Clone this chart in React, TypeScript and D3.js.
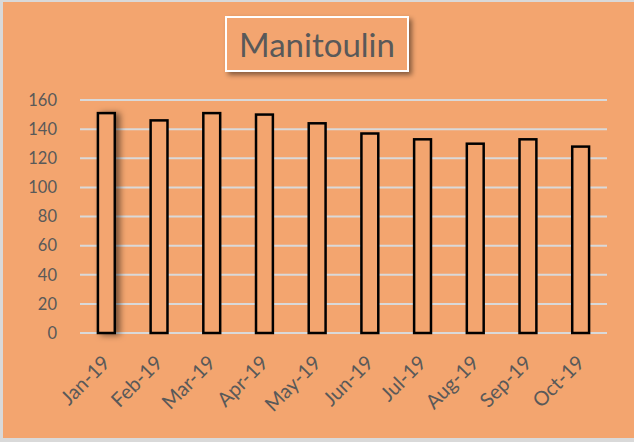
import React, { useEffect, useRef } from 'react';
import * as d3 from 'd3';

// monthly counts
const months = ['Jan-19', 'Feb-19', 'Mar-19', 'Apr-19', 'May-19', 'Jun-19', 'Jul-19', 'Aug-19', 'Sep-19', 'Oct-19'];
const counts = [151, 146, 151, 150, 144, 137, 133, 130, 133, 128];
const yTicks = [0, 20, 40, 60, 80, 100, 120, 140, 160];
const title = 'Manitoulin';

const W = 634, H = 442;
const BG = '#F3A56F';
const TXT = '#595959';
const FONT = 'Lato, "Noto Sans", sans-serif';

const App = () => {
  const ref = useRef<SVGSVGElement>(null);

  useEffect(() => {
    if (!ref.current) return;
    const svg = d3.select(ref.current);
    svg.selectAll('*').remove();

    const defs = svg.append('defs');
    const sh = defs.append('filter').attr('id', 'shadow').attr('x', '-20%').attr('y', '-20%').attr('width', '150%').attr('height', '150%');
    sh.append('feDropShadow').attr('dx', 3).attr('dy', 3).attr('stdDeviation', 2.5)
      .attr('flood-color', '#000').attr('flood-opacity', 0.45);
    const bsh = defs.append('filter').attr('id', 'barshadow').attr('x', '-50%').attr('y', '-10%').attr('width', '250%').attr('height', '120%');
    bsh.append('feDropShadow').attr('dx', 4).attr('dy', 1).attr('stdDeviation', 3)
      .attr('flood-color', '#000').attr('flood-opacity', 0.5);

    // background + light grey frame on left/top/bottom
    svg.append('rect').attr('x', 0).attr('y', 0).attr('width', W).attr('height', H).attr('fill', '#D9D9D9');
    svg.append('rect').attr('x', 3).attr('y', 2).attr('width', W - 3).attr('height', H - 6).attr('fill', BG);

    const x = d3.scaleBand().domain(months).range([80, 607]).paddingInner(0.68).paddingOuter(0.34);
    const y = d3.scaleLinear().domain([0, 160]).range([333, 100]);

    // gridlines
    svg.append('g').selectAll('line').data(yTicks).enter().append('line')
      .attr('x1', 80).attr('x2', 607)
      .attr('y1', d => y(d)).attr('y2', d => y(d))
      .attr('stroke', '#D9D9D9').attr('stroke-width', 2);

    // y labels
    svg.append('g').selectAll('text').data(yTicks).enter().append('text')
      .attr('x', 57).attr('y', d => y(d)).attr('dy', '0.35em')
      .attr('text-anchor', 'end').attr('fill', TXT)
      .attr('font-family', FONT).attr('font-size', 16.5)
      .text(d => d);

    // bars
    svg.append('g').selectAll('rect').data(counts).enter().append('rect')
      .attr('x', (d, i) => x(months[i])!)
      .attr('y', d => y(d))
      .attr('width', x.bandwidth())
      .attr('height', d => y(0) - y(d))
      .attr('fill', BG).attr('stroke', '#000').attr('stroke-width', 2.5)
      .attr('filter', (d, i) => (i === 0 ? 'url(#barshadow)' : null));

    // x labels, rotated 45 degrees
    svg.append('g').selectAll('text').data(months).enter().append('text')
      .attr('transform', d => `translate(${x(d)! + x.bandwidth() / 2},${359}) rotate(-45)`)
      .attr('text-anchor', 'end').attr('dy', '0.35em')
      .attr('fill', TXT).attr('font-family', FONT).attr('font-size', 20)
      .text(d => d);

    // title box
    const tb = svg.append('g');
    tb.append('rect').attr('x', 226).attr('y', 17).attr('width', 182).attr('height', 54)
      .attr('fill', BG).attr('stroke', '#fff').attr('stroke-width', 2).attr('filter', 'url(#shadow)');
    tb.append('text').attr('x', 317).attr('y', 57).attr('text-anchor', 'middle')
      .attr('fill', TXT).attr('font-family', FONT).attr('font-size', 33)
      .text(title);
  }, []);

  return (
    <div style={{ position: 'fixed', left: 0, top: 0 }}>
      <svg ref={ref} width={W} height={H} style={{ display: 'block' }} />
    </div>
  );
};

export default App;
